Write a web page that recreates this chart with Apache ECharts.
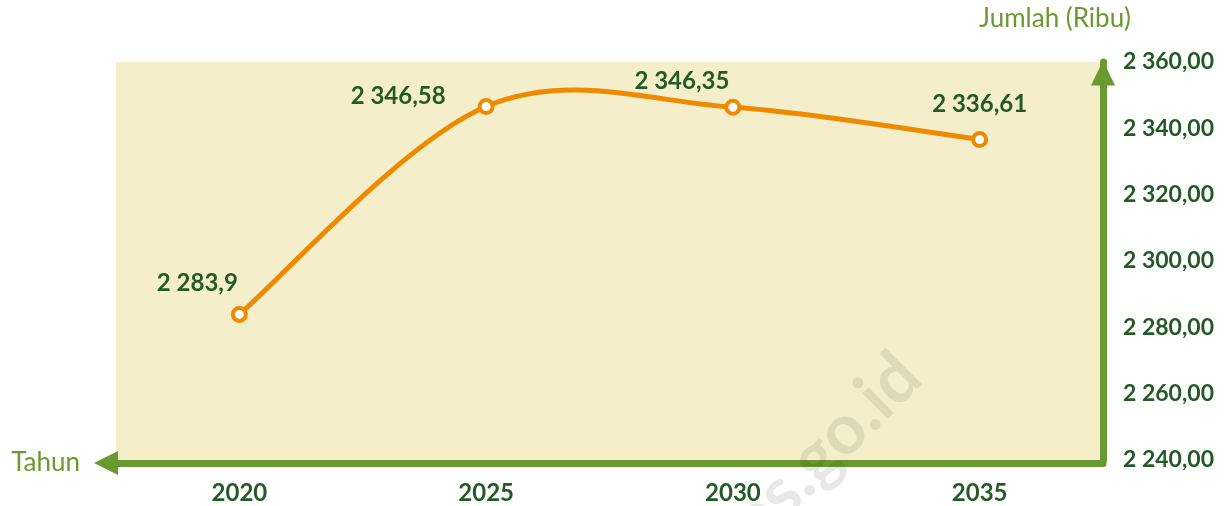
<!DOCTYPE html>
<html>
<head>
<meta charset="utf-8">
<script src="https://cdn.jsdelivr.net/npm/echarts@6/dist/echarts.min.js"></script>
<style>
  html, body { margin: 0; padding: 0; background: #fff; }
  #chart { width: 1229px; height: 506px; }
</style>
</head>
<body>
<div id="chart"></div>
<script>
var years = ['2020', '2025', '2030', '2035'];
var jumlah = [2283.9, 2346.58, 2346.35, 2336.61];
var yTicks = { min: 2240, max: 2360, step: 20 };

// angka gaya Indonesia: spasi ribuan, koma desimal
function fmt(v, dec) {
    var s = dec == null ? String(v) : v.toFixed(dec);
    var p = s.split('.');
    p[0] = p[0].replace(/\B(?=(\d{3})+(?!\d))/g, ' ');
    return p.join(',');
}

var labelOffsets = [[-42, -6], [-88, 15], [-51, -1], [0, -10]];
var green = '#6a9a2f';
var dark = '#245a26';
var orange = '#ee8a00';
var font = 'Lato';

// kurva halus gaya Excel (Catmull-Rom), satu segmen per titik
function renderCurve(params, api) {
    var i = params.dataIndex;
    if (i >= jumlah.length - 1) return;
    var p0 = api.coord([Math.max(i - 1, 0), jumlah[Math.max(i - 1, 0)]]);
    var p1 = api.coord([i, jumlah[i]]);
    var p2 = api.coord([i + 1, jumlah[i + 1]]);
    var j = Math.min(i + 2, jumlah.length - 1);
    var p3 = api.coord([j, jumlah[j]]);
    var c1 = [p1[0] + (p2[0] - p0[0]) / 6, p1[1] + (p2[1] - p0[1]) / 6];
    var c2 = [p2[0] - (p3[0] - p1[0]) / 6, p2[1] - (p3[1] - p1[1]) / 6];
    return {
        type: 'bezierCurve',
        shape: { x1: p1[0], y1: p1[1], cpx1: c1[0], cpy1: c1[1], cpx2: c2[0], cpy2: c2[1], x2: p2[0], y2: p2[1] },
        style: { stroke: orange, lineWidth: 5, fill: null, lineCap: 'round' }
    };
}

var myChart = echarts.init(document.getElementById('chart'));
var option = {
    animation: false,
    grid: {
        left: 116, right: 126, top: 62, bottom: 46,
        show: true,
        backgroundColor: '#f4efca',
        borderWidth: 0
    },
    xAxis: {
        type: 'category',
        data: years,
        offset: 3,
        name: 'Tahun',
        nameLocation: 'start',
        nameGap: 36,
        nameTextStyle: { color: green, fontSize: 26, fontFamily: font, verticalAlign: 'middle' },
        axisLine: {
            lineStyle: { color: green, width: 7, cap: 'round' },
            symbol: ['triangle', 'none'],
            symbolSize: [24, 24],
            symbolOffset: [-10, 0]
        },
        axisTick: { show: false },
        axisLabel: { color: dark, fontSize: 24, fontWeight: 'bold', fontFamily: font, margin: 18 }
    },
    yAxis: {
        type: 'value',
        position: 'right',
        min: yTicks.min,
        max: yTicks.max,
        interval: yTicks.step,
        name: 'Jumlah (Ribu)',
        nameLocation: 'end',
        nameGap: 30,
        nameTextStyle: { color: green, fontSize: 26, fontFamily: font, padding: [0, 96, 0, 0] },
        axisLine: {
            show: true,
            lineStyle: { color: green, width: 7, cap: 'round' },
            symbol: ['none', 'triangle'],
            symbolSize: [24, 25],
            symbolOffset: [0, -11]
        },
        axisTick: { show: false },
        splitLine: { show: false },
        axisLabel: {
            color: dark, fontSize: 23, fontWeight: 'bold', fontFamily: font, margin: 20,
            formatter: function (v) { return fmt(v, 2); }
        }
    },
    series: [{
        type: 'custom',
        renderItem: renderCurve,
        data: jumlah,
        z: 2
    }, {
        type: 'line',
        z: 3,
        data: jumlah.map(function (v, i) {
            return { value: v, label: { offset: labelOffsets[i] } };
        }),
        symbol: 'circle',
        symbolSize: 13,
        showAllSymbol: true,
        lineStyle: { width: 0 },
        itemStyle: { color: '#ffffff', borderColor: orange, borderWidth: 4 },
        label: {
            show: true,
            position: 'top',
            color: dark,
            fontSize: 24,
            fontWeight: 'bold',
            fontFamily: font,
            formatter: function (p) { return fmt(p.value); }
        }
    }],
    graphic: [{
        type: 'text',
        z: 100,
        x: 934,
        y: 390,
        rotation: Math.PI / 4,
        style: {
            text: 'bps.go.id',
            font: 'bold 70px Lato',
            fill: 'rgba(0,0,0,0.09)',
            textAlign: 'right',
            textVerticalAlign: 'bottom'
        }
    }]
};
myChart.setOption(option);

window.addEventListener('resize', function () {
    myChart.resize();
});
</script>
</body>
</html>
